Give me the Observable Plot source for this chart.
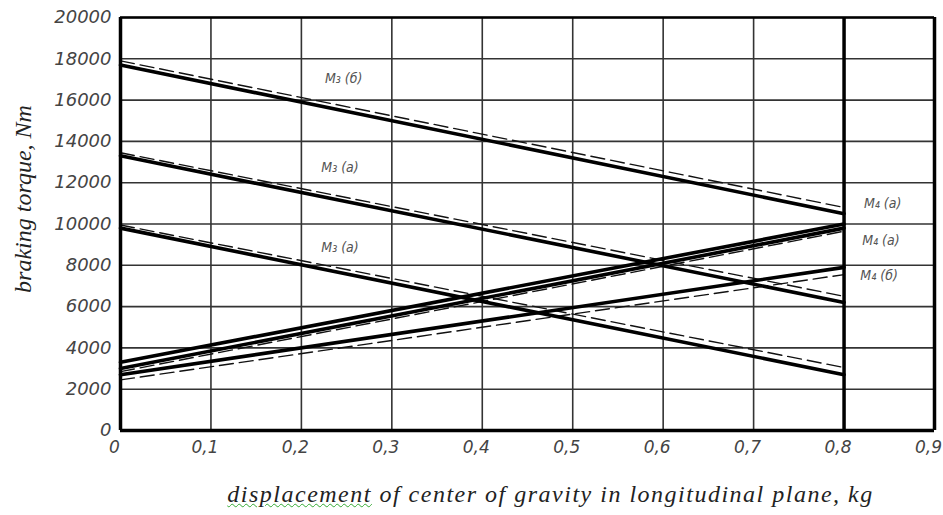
<!DOCTYPE html>
<html>
<head>
<meta charset="utf-8">
<script src="https://cdn.jsdelivr.net/npm/d3@7"></script>
<script src="https://cdn.jsdelivr.net/npm/@observablehq/plot@0.6"></script>
<style>
  body { margin: 0; background: #fff; }
  #chart { width: 943px; }
  #xlabel {
    font-family: "Liberation Serif", serif; font-style: italic; font-size: 24px;
    letter-spacing: 1.5px;
    color: #222; padding-left: 158px; text-align: center; width: 785px;
    margin-top: 11px; white-space: nowrap;
  }
  #xlabel .sp { text-decoration: underline wavy #3a3; text-decoration-thickness: 1px; }
</style>
</head>
<body>
<div id="chart"></div>
<div id="xlabel"><span class="sp">displacement</span> of center of gravity in longitudinal plane, kg</div>
<script>
// ---- data ----
const xTicks = [0, 0.1, 0.2, 0.3, 0.4, 0.5, 0.6, 0.7, 0.8, 0.9];
const yTicks = [0, 2000, 4000, 6000, 8000, 10000, 12000, 14000, 16000, 18000, 20000];
const xEnds = [0, 0.8];

const solidSeries = ["Mb_b", "Mb_a", "Mb_c", "Mf_a1", "Mf_a2", "Mf_b"];
const solidStart  = [17700, 13300, 9800, 3300, 3000, 2700];
const solidEnd    = [10500, 6200, 2700, 10000, 9800, 7900];

const dashedSeries = ["Mb_b", "Mb_a", "Mb_c", "Mf_a", "Mf_b"];
const dashedStart  = [17900, 13450, 9950, 2850, 2450];
const dashedEnd    = [10800, 6500, 3050, 9650, 7550];

const labelText = ["M\u2083 (б)", "M\u2083 (а)", "M\u2083 (а)", "M\u2084 (а)", "M\u2084 (а)", "M\u2084 (б)"];
const labelX    = [0.226, 0.222, 0.222, 0.822, 0.82, 0.818];
const labelY    = [17050, 12750, 8850, 11000, 9200, 7500];

const yTitle = "braking torque, Nm";

// ---- build tables ----
const solidRows = solidSeries.flatMap((s, i) => [
  {s, x: xEnds[0], y: solidStart[i]}, {s, x: xEnds[1], y: solidEnd[i]}
]);
const dashedRows = dashedSeries.flatMap((s, i) => [
  {s, x: xEnds[0], y: dashedStart[i]}, {s, x: xEnds[1], y: dashedEnd[i]}
]);
const labels = labelText.map((t, i) => ({t, x: labelX[i], y: labelY[i]}));

const tickFont = "DejaVu Sans, sans-serif";
const fmtX = d => d === 0 ? "0" : String(d).replace(".", ",");

const chart = Plot.plot({
  width: 943,
  height: 470,
  marginLeft: 120,
  marginRight: 9,
  marginTop: 17,
  marginBottom: 40,
  style: {background: "#fff", overflow: "visible"},
  x: {domain: [0, 0.9], ticks: xTicks, tickFormat: fmtX},
  y: {domain: [0, 20000], ticks: yTicks, tickFormat: d => String(d)},
  marks: [
    Plot.ruleX(xTicks, {stroke: "#333", strokeWidth: 1.6}),
    Plot.ruleY(yTicks, {stroke: "#333", strokeWidth: 1.6}),
    Plot.line(dashedRows, {x: "x", y: "y", z: "s", stroke: "#111", strokeWidth: 1.4, strokeDasharray: "14,6"}),
    Plot.line(solidRows, {x: "x", y: "y", z: "s", stroke: "#000", strokeWidth: 3.6}),
    Plot.ruleX([0, 0.8, 0.9], {stroke: "#000", strokeWidth: 3.5}),
    Plot.ruleY([0], {stroke: "#000", strokeWidth: 3.5}),
    Plot.ruleY([20000], {stroke: "#000", strokeWidth: 2.6}),
    Plot.text(labels, {x: "x", y: "y", text: "t", fill: "#555", fontSize: 14, fontStyle: "italic", fontFamily: "DejaVu Sans Condensed, DejaVu Sans, sans-serif", textAnchor: "start"}),
    Plot.axisX({ticks: xTicks, tickSize: 0, tickPadding: 10, dx: -6, label: null, fontSize: 17, fill: "#444", fontStyle: "italic", fontFamily: tickFont, tickFormat: fmtX}),
    Plot.axisY({ticks: yTicks, tickSize: 0, tickPadding: 9, label: null, fontSize: 18, fill: "#444", fontStyle: "italic", fontFamily: tickFont, tickFormat: d => String(d)}),
    Plot.text([yTitle], {frameAnchor: "left", text: d => d, rotate: -90, textAnchor: "middle", dx: -97, dy: -25, fontSize: 24, fontStyle: "italic", fontFamily: "Liberation Serif, serif", fill: "#222", style: "letter-spacing:1.5px"})
  ]
});
document.getElementById("chart").appendChild(chart);
</script>
</body>
</html>
